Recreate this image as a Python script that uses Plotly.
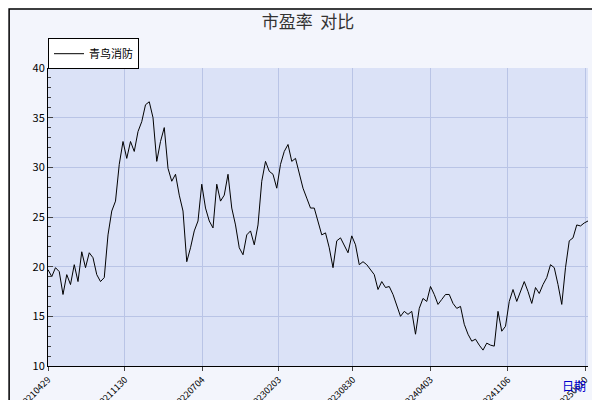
import pandas as pd
import plotly.graph_objects as go

# PE values, left to right
pe_part1 = [19.7, 19.0, 19.9, 19.5, 17.2, 19.2, 18.2, 20.2, 18.5, 21.5, 19.9, 21.4, 20.9, 19.2,
            18.5, 18.9, 23.2, 25.6, 26.6, 30.3, 32.6, 30.9, 32.6, 31.6, 33.6, 34.6, 36.3, 36.6,
            35.0, 30.6, 32.6, 34.0, 29.9, 28.6, 29.3, 27.2, 25.6, 20.5, 21.9, 23.6, 24.6, 28.3,
            25.9, 24.6, 23.9, 28.3, 26.6, 27.2, 29.3, 25.9, 24.2, 21.9, 21.2, 23.2, 23.6, 22.2,
            24.2, 28.6, 30.6, 29.6, 29.3, 27.9, 30.3, 31.6, 32.3, 30.6, 30.9, 29.3, 27.9, 26.9,
            25.9, 25.9, 24.6, 23.2, 23.4]
pe_part2 = [21.9, 19.9, 22.6, 22.9, 22.2, 21.4, 23.1, 22.2, 20.2, 20.5, 20.2, 19.7, 19.2, 17.7,
            18.5, 17.9, 18.0, 17.2, 16.2, 15.0, 15.5, 15.2, 15.5, 13.2, 15.8, 16.8, 16.5, 18.0,
            17.2, 16.2, 16.7, 17.2, 17.2, 16.3, 15.8, 16.0, 14.2, 13.2, 12.5, 12.7, 12.1, 11.6,
            12.3, 12.1, 12.0, 15.5, 13.5, 14.0, 16.5, 17.7, 16.5, 17.5, 18.5, 17.5, 16.3, 17.9,
            17.3, 18.2, 18.9, 20.2, 19.9, 18.2, 16.2, 19.9, 22.6, 22.9, 24.2, 24.1, 24.4, 24.6]
pe = pe_part1 + pe_part2

start_date = "2021-04-29"
end_date = "2025-06-18"
tick_dates = ["2021-04-29", "2021-11-30", "2022-07-04", "2023-02-03",
              "2023-08-30", "2024-04-03", "2024-11-06", "2025-06-10"]
tick_labels = [d.replace("-", "") for d in tick_dates]

dates = pd.date_range(start_date, end_date, periods=len(pe))

fig = go.Figure()
fig.add_trace(go.Scatter(x=dates, y=pe, mode="lines", name="青鸟消防",
                         line=dict(color="black", width=1)))

fig.update_layout(
    width=600, height=400,
    margin=dict(l=40, r=20, t=60, b=42, autoexpand=False),
    paper_bgcolor="#f3f5fc",
    plot_bgcolor="#dbe2f7",
    font=dict(family="Noto Sans CJK SC", size=11, color="black"),
    title=dict(text="市盈率  对比", x=0.5, y=0.965, xanchor="center", yanchor="middle",
               font=dict(size=17, color="#333333")),
    showlegend=True,
    legend=dict(x=0.0, y=1.1, xanchor="left", yanchor="top",
                bgcolor="white", bordercolor="black", borderwidth=1,
                font=dict(size=11)),
    shapes=[dict(type="rect", xref="paper", yref="paper", x0=-0.072, x1=1.031,
                 y0=-0.131, y1=1.198, line=dict(color="black", width=1.5))],
    annotations=[dict(text="日期", xref="paper", yref="paper", x=1.0, y=-0.03,
                      xanchor="right", yanchor="top", showarrow=False,
                      font=dict(color="#0000cc", size=12))],
)
fig.update_xaxes(tickvals=pd.to_datetime(tick_dates), ticktext=tick_labels,
                 tickangle=-45, tickfont=dict(size=9), range=[start_date, end_date],
                 showgrid=True, gridcolor="#b9c4e6", showline=True, linecolor="black",
                 ticks="outside", ticklen=4, zeroline=False)
fig.update_yaxes(range=[10, 40], dtick=5, showgrid=True, gridcolor="#b9c4e6",
                 showline=True, linecolor="black", ticks="inside", ticklen=5,
                 minor=dict(dtick=1, ticks="inside", ticklen=3, showgrid=False),
                 zeroline=False)

fig.write_html("out.html")
